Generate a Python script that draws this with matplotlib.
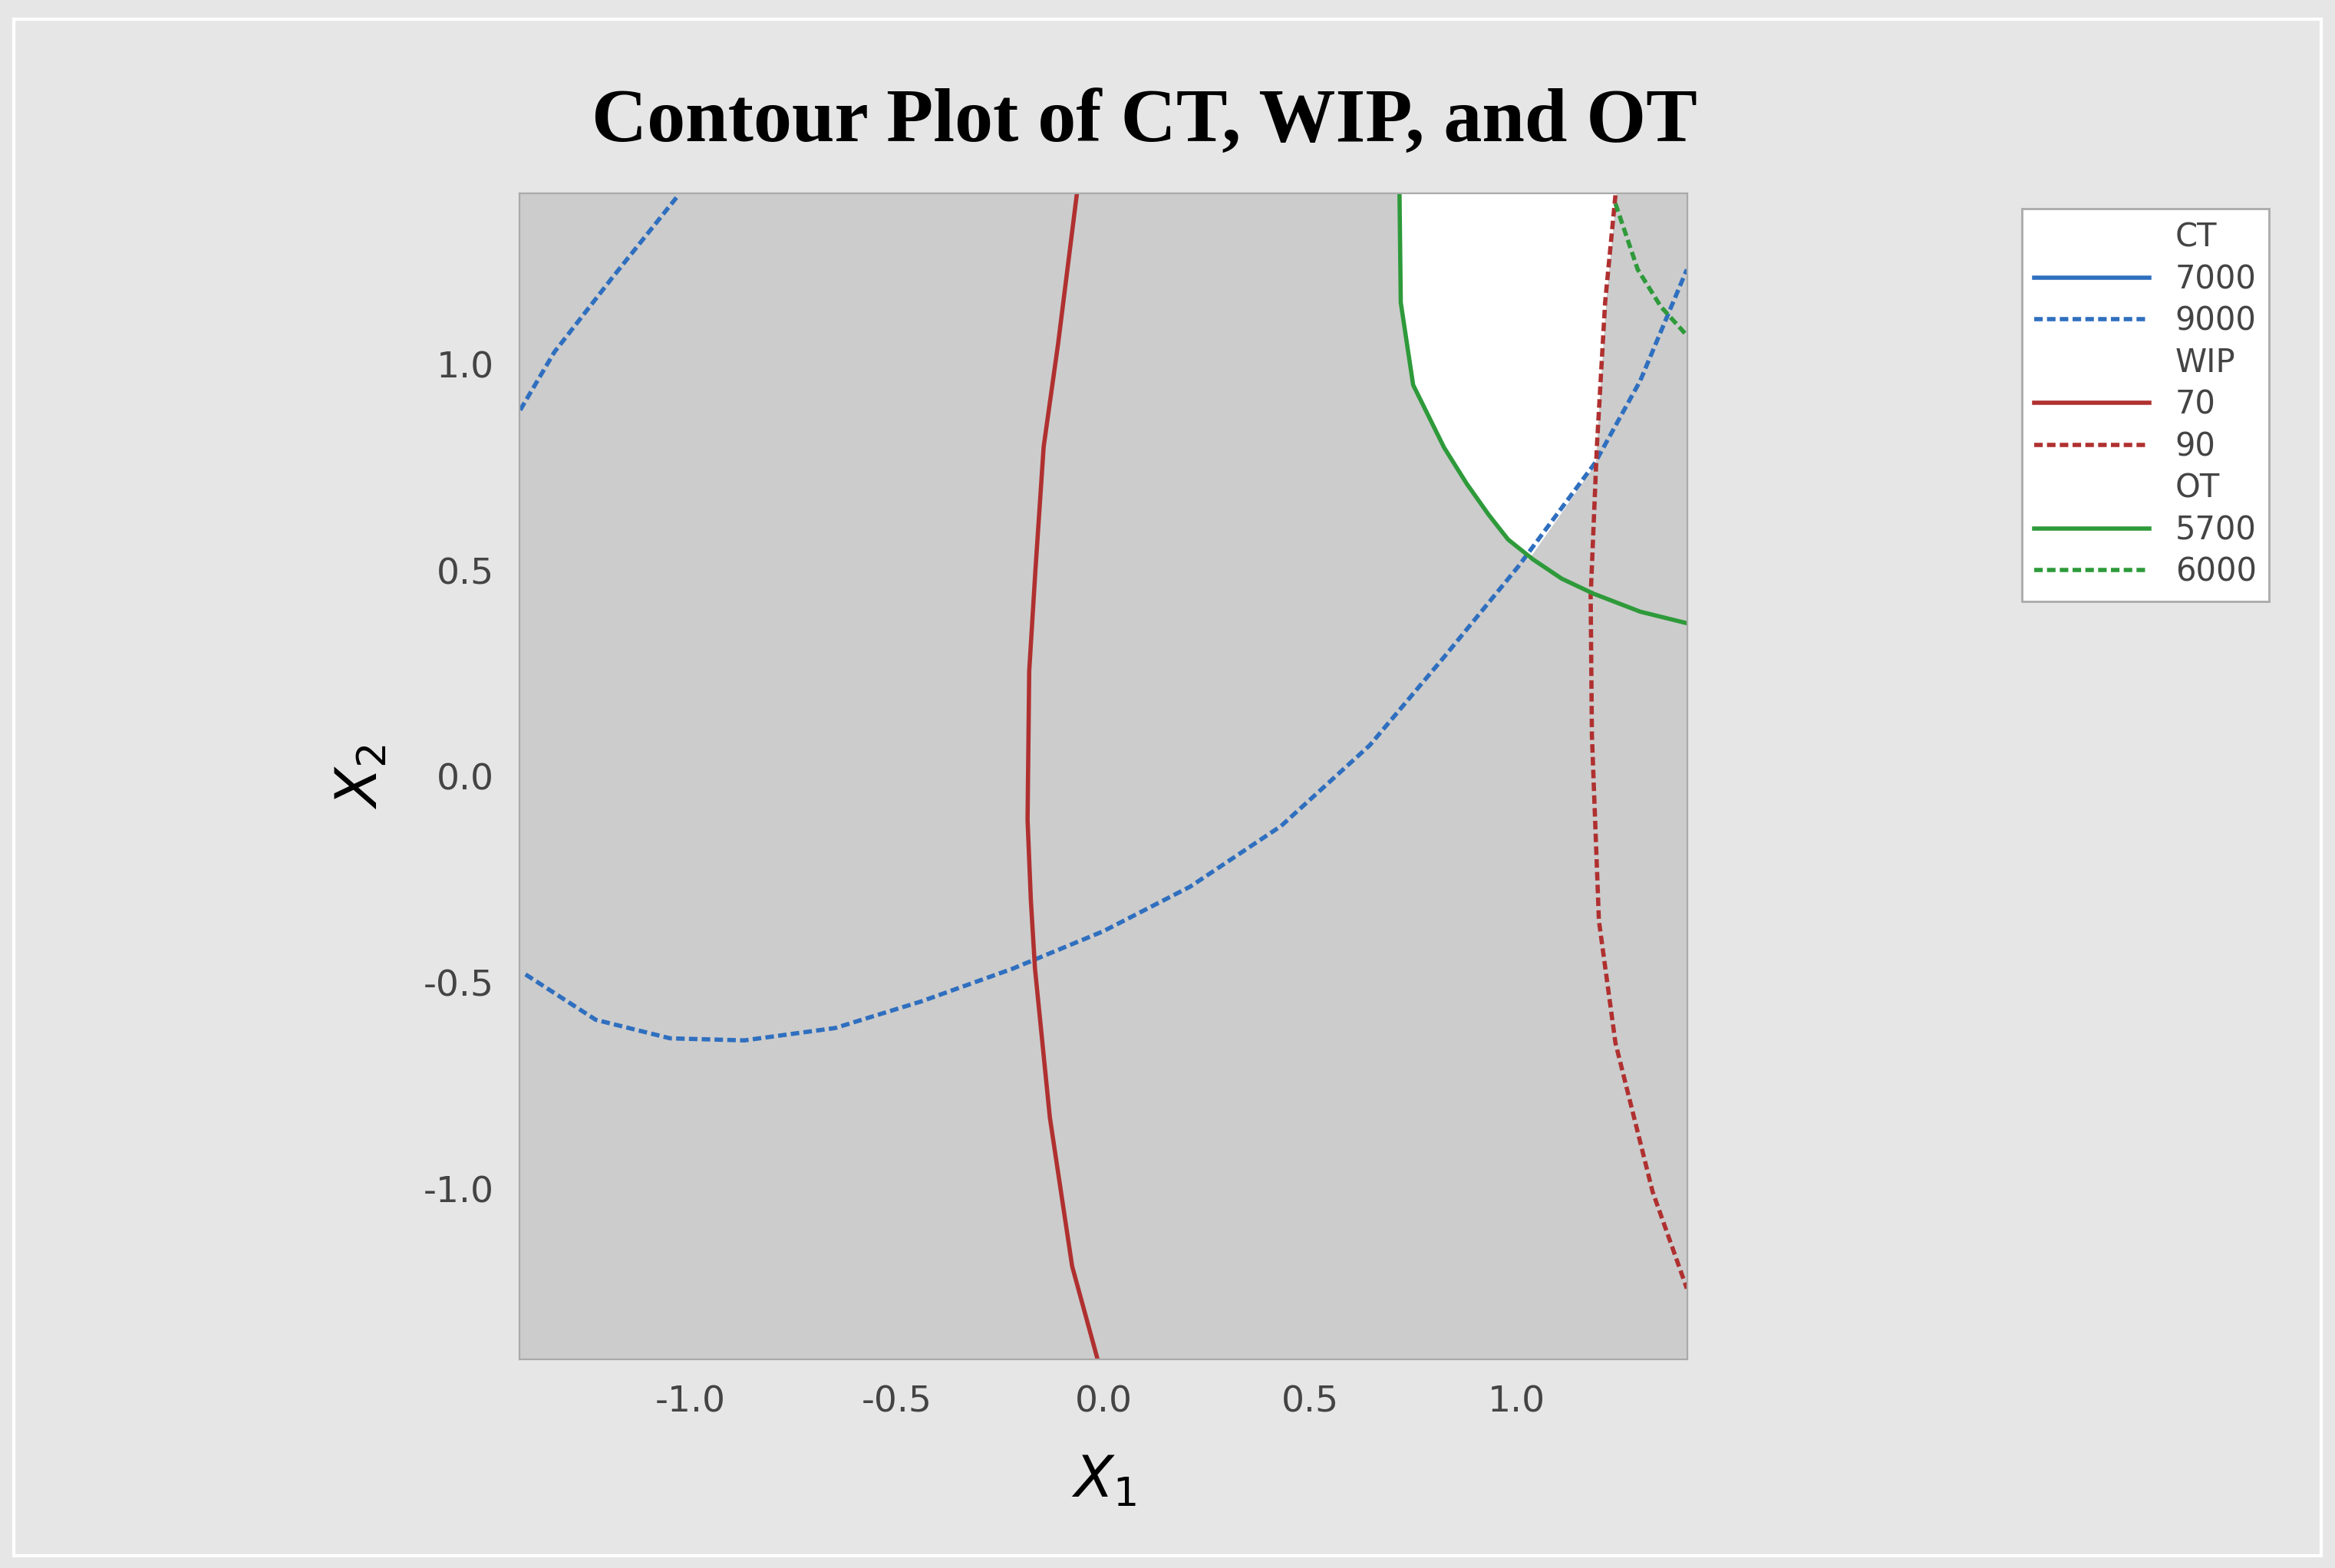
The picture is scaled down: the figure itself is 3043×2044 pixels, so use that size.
import matplotlib
matplotlib.use("Agg")
import matplotlib.pyplot as plt
from matplotlib.lines import Line2D
from matplotlib.patches import Rectangle

ct9000_a_x = [-1.413, -1.33, -1.19, -1.03]
ct9000_a_y = [0.889, 1.03, 1.21, 1.41]
ct9000_x = [-1.40, -1.23, -1.05, -0.87, -0.65, -0.44, -0.22, 0.0, 0.21, 0.43, 0.645, 0.825, 1.005, 1.19, 1.30, 1.413]
ct9000_y = [-0.48, -0.59, -0.635, -0.64, -0.61, -0.545, -0.466, -0.375, -0.267, -0.12, 0.076, 0.29, 0.51, 0.76, 0.96, 1.23]
wip70_x = [-0.065, -0.11, -0.145, -0.165, -0.18, -0.184, -0.176, -0.166, -0.13, -0.076, -0.014]
wip70_y = [1.41, 1.05, 0.80, 0.50, 0.256, -0.105, -0.30, -0.466, -0.827, -1.188, -1.415]
wip90_x = [1.24, 1.215, 1.195, 1.18, 1.183, 1.20, 1.24, 1.33, 1.413]
wip90_y = [1.41, 1.15, 0.80, 0.437, 0.10, -0.35, -0.646, -1.007, -1.242]
ot5700_x = [0.717, 0.72, 0.75, 0.825, 0.88, 0.933, 0.98, 1.04, 1.11, 1.186, 1.30, 1.413]
ot5700_y = [1.41, 1.15, 0.95, 0.798, 0.71, 0.635, 0.575, 0.527, 0.48, 0.444, 0.40, 0.372]
ot6000_x = [1.24, 1.294, 1.35, 1.413]
ot6000_y = [1.39, 1.23, 1.14, 1.07]
feas_x = [0.717, 0.72, 0.75, 0.825, 0.88, 0.933, 0.98, 1.03, 1.10, 1.19, 1.195, 1.215, 1.24]
feas_y = [1.414, 1.15, 0.95, 0.798, 0.71, 0.635, 0.575, 0.53, 0.63, 0.76, 0.85, 1.15, 1.414]

blue, red, green = "#2f6fbf", "#b03030", "#2e9a3a"
fig = plt.figure(figsize=(15.215, 10.22), dpi=200, facecolor="#e6e6e6")
fig.patches.append(Rectangle((0.006, 0.008), 0.988, 0.98, transform=fig.transFigure,
                             fill=False, edgecolor="white", lw=1.5))
ax = fig.add_axes([0.2226, 0.133, 0.5, 0.7435], facecolor="#cccccc")
ax.set_xlim(-1.414, 1.414); ax.set_ylim(-1.414, 1.414)
ax.fill(feas_x, feas_y, color="white", zorder=1)
ax.plot(ct9000_a_x, ct9000_a_y, color=blue, ls=(0, (2, 1)), lw=2)
ax.plot(ct9000_x, ct9000_y, color=blue, ls=(0, (2, 1)), lw=2)
ax.plot(wip70_x, wip70_y, color=red, lw=2)
ax.plot(wip90_x, wip90_y, color=red, ls=(0, (2, 1)), lw=2)
ax.plot(ot5700_x, ot5700_y, color=green, lw=2)
ax.plot(ot6000_x, ot6000_y, color=green, ls=(0, (2, 1)), lw=2)
ticks = [-1.0, -0.5, 0.0, 0.5, 1.0]
ax.set_xticks(ticks); ax.set_yticks(ticks)
ax.set_xticklabels([f"{t:.1f}" for t in ticks]); ax.set_yticklabels([f"{t:.1f}" for t in ticks])
ax.tick_params(length=0, labelsize=17, colors="#444444", pad=12)
for s in ax.spines.values():
    s.set_color("#aaaaaa")
ax.set_xlabel("$X_1$", fontsize=27, labelpad=16)
ax.set_ylabel("$X_2$", fontsize=27, labelpad=16)
fig.text(0.49, 0.922, "Contour Plot of CT, WIP, and OT", ha="center", va="center",
         fontsize=36, fontweight="bold", family="Liberation Serif")
h = [Line2D([], [], color="none"), Line2D([], [], color=blue, lw=2), Line2D([], [], color=blue, lw=2, ls=(0, (2, 1))),
     Line2D([], [], color="none"), Line2D([], [], color=red, lw=2), Line2D([], [], color=red, lw=2, ls=(0, (2, 1))),
     Line2D([], [], color="none"), Line2D([], [], color=green, lw=2), Line2D([], [], color=green, lw=2, ls=(0, (2, 1)))]
l = ["CT", "7000", "9000", "WIP", "70", "90", "OT", "5700", "6000"]
leg = fig.legend(h, l, loc="upper left", bbox_to_anchor=(0.859, 0.877), fontsize=15,
                 frameon=True, fancybox=False, edgecolor="#aaaaaa", facecolor="white",
                 framealpha=1, handlelength=3.6, labelspacing=0.3, borderpad=0.4)
for t in leg.get_texts():
    t.set_color("#444444")
fig.savefig("out.png", dpi=200, facecolor=fig.get_facecolor())
